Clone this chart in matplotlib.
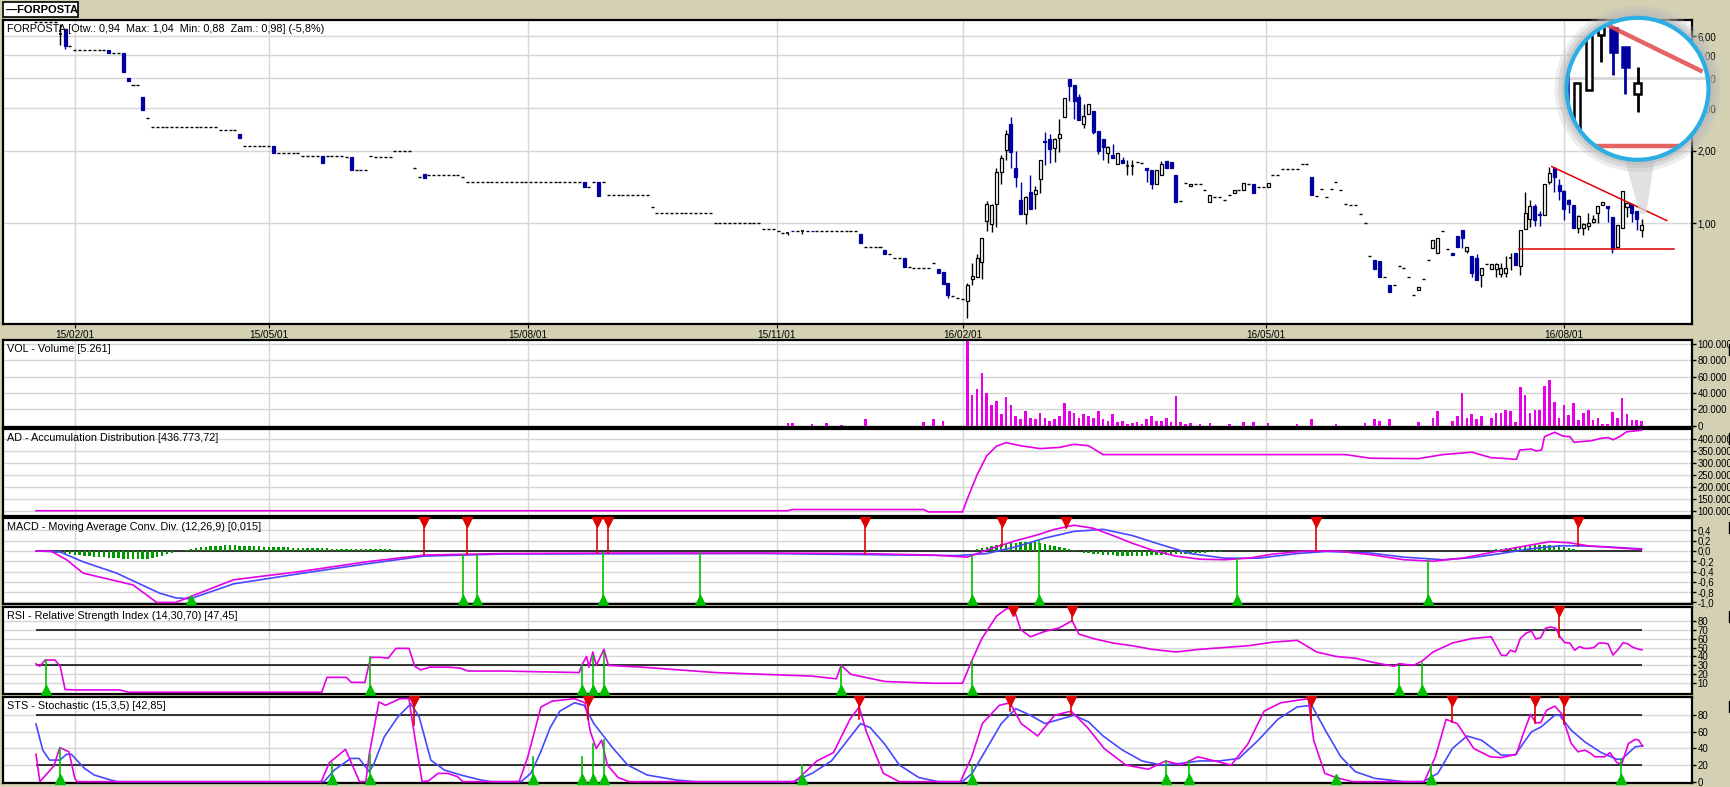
import numpy as np
import matplotlib.pyplot as plt
from matplotlib.patches import Rectangle, Circle, Polygon
from matplotlib.lines import Line2D
from matplotlib.transforms import blended_transform_factory, offset_copy

# ---------------- data ----------------
date_pos = [8, 48, 101.4, 152.7, 191.1, 253.5, 315]
date_lbl = ['15/02/01', '15/05/01', '15/08/01', '15/11/01', '16/02/01', '16/05/01', '16/08/01']

# bars without range (open = high = low = close): (first bar, last bar, price)
flat_runs = [(0, 4, 6.85), (7, 7, 5.44), (8, 14, 5.25), (16, 17, 5.11), (20, 21, 3.77),
             (23, 23, 2.74), (24, 37, 2.51), (38, 41, 2.43), (43, 48, 2.09), (50, 54, 1.96),
             (55, 58, 1.90), (60, 63, 1.90), (64, 64, 1.88), (66, 68, 1.67), (69, 69, 1.90),
             (70, 73, 1.88), (74, 77, 1.99), (78, 78, 1.69), (79, 79, 1.55), (81, 87, 1.58),
             (88, 88, 1.56), (89, 112, 1.49), (114, 114, 1.41), (115, 115, 1.49), (117, 117, 1.49),
             (118, 126, 1.31), (127, 127, 1.17), (128, 139, 1.10), (140, 149, 1.006),
             (150, 152, 0.95), (153, 153, 0.93), (154, 154, 0.912), (157, 157, 0.93),
             (159, 159, 0.93), (161, 162, 0.932), (163, 163, 0.928), (164, 164, 0.926),
             (165, 169, 0.932), (171, 174, 0.80), (176, 176, 0.744), (177, 178, 0.72),
             (180, 180, 0.659), (181, 184, 0.649), (185, 185, 0.682), (189, 189, 0.50),
             (190, 190, 0.49), (191, 191, 0.482), (227, 227, 1.79), (228, 228, 1.78),
             (236, 236, 1.24), (237, 237, 1.475), (239, 240, 1.46), (241, 241, 1.37),
             (243, 243, 1.29), (244, 244, 1.28), (245, 245, 1.25), (246, 246, 1.31),
             (248, 248, 1.38), (250, 250, 1.46), (252, 252, 1.42), (253, 253, 1.41),
             (255, 256, 1.58), (257, 260, 1.675), (261, 262, 1.77), (264, 264, 1.30),
             (265, 265, 1.39), (266, 266, 1.29), (267, 267, 1.39), (268, 268, 1.49),
             (269, 269, 1.38), (270, 270, 1.20), (271, 272, 1.19), (273, 273, 1.09),
             (274, 274, 1.0), (275, 275, 0.73), (278, 278, 0.60), (280, 280, 0.553),
             (281, 281, 0.663), (282, 282, 0.65), (283, 283, 0.60), (284, 284, 0.503),
             (286, 286, 0.589), (287, 287, 0.702), (290, 290, 0.926), (291, 291, 0.78),
             (299, 299, 0.676)]

c_idx = [5, 6, 15, 18, 19, 22, 42, 49, 59, 65, 80, 113, 116, 155, 156, 158, 160, 170, 175, 179,
         186, 187, 188, 192, 193, 194, 195, 196, 197, 198, 199, 200, 201, 202, 203, 204, 205,
         206, 207, 208, 209, 210, 211, 212, 213, 214, 215, 216, 217, 218, 219, 220, 221, 222,
         223, 224, 225, 226, 229, 230, 231, 232, 233, 234, 235, 238, 242, 247, 249, 251, 254,
         263, 276, 277, 279, 285, 288, 289, 292, 293, 294, 295, 296, 297, 298, 300, 301, 302,
         303, 304, 305, 306, 307, 308, 309, 310, 311, 312, 313, 314, 315, 316, 317, 318, 319,
         320, 321, 322, 323, 324, 325, 326, 327, 328, 329, 330, 331]
c_open = [6.1, 6.42, 5.26, 5.11, 4.02, 3.36, 2.36, 2.09, 1.90, 1.88, 1.60, 1.49, 1.49, 0.91, 0.93,
          0.925, 0.93, 0.90, 0.773, 0.716, 0.645, 0.627, 0.564, 0.474, 0.584, 0.599, 0.691,
          1.022, 0.997, 1.20, 1.64, 2.02, 2.59, 1.69, 1.245, 1.09, 1.345, 1.32, 1.53, 2.19,
          2.25, 2.05, 2.27, 2.76, 3.96, 3.74, 3.36, 2.59, 2.85, 2.94, 2.41, 2.25, 1.96, 1.93,
          1.77, 1.83, 1.73, 1.73, 1.69, 1.67, 1.46, 1.59, 1.81, 1.80, 1.58, 1.43, 1.23, 1.34,
          1.38, 1.45, 1.41, 1.55, 0.70, 0.695, 0.553, 0.53, 0.79, 0.749, 0.749, 0.883, 0.94,
          0.77, 0.73, 0.716, 0.61, 0.647, 0.645, 0.613, 0.62, 0.72, 0.749, 0.663, 0.947, 1.04,
          1.18, 1.09, 1.087, 1.48, 1.70, 1.44, 1.36, 1.245, 1.19, 0.956, 0.956, 0.978, 1.01,
          1.10, 1.19, 1.18, 1.059, 0.80, 0.956, 1.17, 1.20, 1.12, 0.94]
c_high = [6.75, 6.42, 5.26, 5.11, 4.02, 3.36, 2.36, 2.09, 1.90, 1.88, 1.60, 1.49, 1.49, 0.91, 0.93,
          0.925, 0.93, 0.90, 0.773, 0.716, 0.645, 0.627, 0.564, 0.566, 0.681, 0.744, 0.872,
          1.234, 1.20, 1.70, 1.93, 2.43, 2.76, 1.995, 1.48, 1.30, 1.58, 1.43, 1.84, 2.39, 2.34,
          2.27, 2.72, 3.32, 3.96, 3.74, 3.45, 3.12, 3.12, 2.94, 2.41, 2.25, 2.10, 2.13, 1.95,
          1.88, 1.83, 1.84, 1.69, 1.67, 1.67, 1.81, 1.81, 1.80, 1.58, 1.46, 1.31, 1.38, 1.475,
          1.45, 1.475, 1.55, 0.70, 0.695, 0.553, 0.541, 0.848, 0.872, 0.749, 0.883, 0.94,
          0.80, 0.73, 0.744, 0.65, 0.674, 0.685, 0.685, 0.73, 0.749, 0.749, 0.935, 1.35, 1.245,
          1.20, 1.12, 1.46, 1.72, 1.72, 1.52, 1.38, 1.26, 1.19, 1.08, 1.0, 1.10, 1.08, 1.18,
          1.22, 1.18, 1.059, 0.98, 1.356, 1.21, 1.20, 1.12, 1.04]
c_low = [5.53, 5.30, 5.09, 4.24, 3.89, 2.96, 2.26, 1.96, 1.78, 1.66, 1.54, 1.41, 1.30, 0.895,
         0.925, 0.905, 0.925, 0.83, 0.746, 0.659, 0.622, 0.558, 0.49, 0.402, 0.551, 0.599,
         0.588, 0.929, 0.92, 0.96, 1.45, 1.84, 1.69, 1.41, 1.09, 0.99, 1.15, 1.15, 1.34, 1.74,
         1.78, 1.79, 1.98, 2.76, 3.21, 2.71, 2.68, 2.50, 2.85, 2.35, 1.94, 1.83, 1.78, 1.87,
         1.77, 1.78, 1.58, 1.58, 1.48, 1.39, 1.46, 1.59, 1.70, 1.69, 1.23, 1.43, 1.23, 1.34,
         1.38, 1.34, 1.41, 1.31, 0.645, 0.60, 0.52, 0.53, 0.79, 0.749, 0.737, 0.80, 0.79,
         0.749, 0.60, 0.58, 0.541, 0.647, 0.60, 0.60, 0.60, 0.64, 0.67, 0.61, 0.947, 0.965,
         0.97, 0.97, 1.087, 1.46, 1.35, 1.245, 1.03, 1.10, 0.956, 0.91, 0.89, 0.935, 1.0,
         1.003, 1.19, 1.01, 0.75, 0.79, 0.956, 1.06, 1.01, 0.94, 0.88]
c_close = [6.1, 5.47, 5.09, 4.24, 3.89, 2.96, 2.26, 1.96, 1.78, 1.66, 1.54, 1.41, 1.30, 0.91,
           0.925, 0.925, 0.925, 0.83, 0.746, 0.659, 0.622, 0.558, 0.503, 0.553, 0.603, 0.714,
           0.872, 1.207, 1.188, 1.64, 1.87, 2.36, 1.98, 1.55, 1.09, 1.28, 1.15, 1.37, 1.84,
           2.18, 2.03, 2.25, 2.36, 3.32, 3.71, 3.21, 2.68, 2.78, 3.12, 2.39, 1.995, 2.08, 2.07,
           1.87, 1.95, 1.78, 1.73, 1.73, 1.66, 1.45, 1.67, 1.77, 1.70, 1.69, 1.23, 1.46, 1.31,
           1.38, 1.475, 1.34, 1.475, 1.31, 0.645, 0.60, 0.52, 0.541, 0.848, 0.872, 0.737, 0.80,
           0.87, 0.80, 0.62, 0.58, 0.65, 0.674, 0.674, 0.652, 0.652, 0.72, 0.67, 0.935, 1.107,
           1.18, 1.03, 1.085, 1.46, 1.61, 1.56, 1.36, 1.15, 1.20, 0.956, 1.07, 0.99, 1.006,
           1.045, 1.18, 1.22, 1.16, 0.78, 0.98, 1.356, 1.21, 1.10, 1.04, 0.98]

trend_x, trend_y = [312.5, 336.2], [1.72, 1.026]
support_x, support_y = [305.8, 337.7], [0.778, 0.778]

vol_idx = [155, 156, 160, 163, 166, 171, 183, 185, 187, 192, 193, 194, 195, 196, 197, 198, 199,
           200, 201, 202, 203, 204, 205, 206, 207, 208, 209, 210, 211, 212, 213, 214, 215, 216,
           217, 218, 219, 220, 221, 222, 223, 224, 225, 226, 227, 228, 229, 230, 231, 232, 233,
           234, 235, 236, 237, 238, 240, 242, 246, 249, 251, 254, 260, 263, 268, 274, 276, 277,
           279, 285, 288, 289, 292, 293, 294, 295, 296, 297, 298, 300, 301, 302, 303, 304, 305,
           306, 307, 308, 309, 310, 311, 312, 313, 314, 315, 316, 317, 318, 319, 320, 321, 322,
           323, 324, 325, 326, 327, 328, 329, 330, 331]
vol_val = [3000, 3000, 2000, 3000, 1000, 8000, 4000, 8000, 6000, 104000, 38000, 45000, 65000,
           40000, 25000, 30000, 14000, 35000, 25000, 12000, 8000, 18000, 10000, 8000, 15000,
           10000, 6000, 8000, 12000, 28000, 18000, 15000, 10000, 14000, 12000, 10000, 18000,
           8000, 6000, 14000, 4000, 6000, 2000, 3000, 5000, 2000, 8000, 12000, 6000, 6000, 10000,
           4000, 36000, 4000, 2000, 3000, 2000, 3000, 2000, 4000, 5000, 3000, 2000, 8000, 2000,
           3000, 8000, 6000, 8000, 4000, 10000, 18000, 6000, 12000, 40000, 10000, 14000, 8000,
           12000, 10000, 16000, 16000, 19000, 18000, 4000, 47000, 37600, 16000, 19000, 19000,
           48600, 56000, 29000, 9400, 25000, 13000, 27400, 7000, 15000, 19000, 7000, 9400, 1700,
           1700, 16800, 9400, 34000, 14300, 7000, 7000, 5261]

ad_x = [0, 155, 156, 183, 184, 191, 192, 194, 196, 198, 200, 203, 207, 211, 214, 217, 220, 225,
        270, 275, 285, 290, 296, 300, 302, 305.2, 305.9, 308.3, 309.3, 310.4, 311, 313.1, 314.8,
        316.2, 317.1, 319, 320.7, 322.7, 324.1, 325.1, 326.5, 327.9, 331]
ad_y = [101000, 101000, 106000, 106000, 96000, 96000, 150000, 250000, 330000, 370000, 385000,
        372000, 360000, 365000, 378000, 372000, 335000, 335000, 335000, 320000, 318000, 335000,
        345000, 322000, 320000, 315000, 354000, 358000, 350000, 354000, 410000, 428000, 412000,
        410000, 386000, 390000, 393000, 403000, 406000, 397000, 410000, 430000, 436774]

macd_x = [0, 3, 6.3, 9.7, 20, 24.9, 28.8, 40.7, 54.4, 68.2, 80, 96, 120, 150, 170, 185, 192, 197,
          202, 206, 210, 214, 218, 222, 226, 230, 235, 240, 245, 250, 255, 262, 268, 275, 282,
          288, 294, 300, 306, 312, 316, 320, 326, 331]
macd_y = [0.0, 0.0, -0.17, -0.43, -0.66, -1.0, -1.0, -0.56, -0.40, -0.21, -0.08, -0.05, -0.04,
          -0.04, -0.05, -0.08, -0.12, 0.05, 0.2, 0.3, 0.42, 0.5, 0.44, 0.3, 0.15, 0.02, -0.1,
          -0.16, -0.17, -0.14, -0.06, 0.0, 0.0, -0.07, -0.17, -0.2, -0.14, -0.03, 0.08, 0.18,
          0.16, 0.1, 0.06, 0.03]
sig_x = [0, 5, 9.7, 16.6, 25.5, 28.8, 31.8, 40.7, 54.4, 68.2, 80, 96, 150, 190, 196, 202, 208,
         214, 220, 226, 232, 238, 245, 252, 260, 266, 275, 282, 290, 296, 302, 308, 314, 318,
         324, 331]
sig_y = [0.0, -0.02, -0.21, -0.43, -0.82, -0.91, -0.93, -0.64, -0.44, -0.25, -0.1, -0.06, -0.05,
         -0.09, -0.05, 0.08, 0.25, 0.38, 0.42, 0.3, 0.12, -0.05, -0.14, -0.14, -0.05, -0.01,
         -0.04, -0.12, -0.17, -0.13, -0.05, 0.04, 0.1, 0.1, 0.08, 0.04]
hist_idx = list(range(2, 29)) + list(range(31, 81)) + list(range(193, 246)) + list(range(300, 319))
hist_val = [-0.01, -0.02, -0.03, -0.04, -0.05, -0.06, -0.07, -0.08, -0.09, -0.10, -0.11, -0.12,
            -0.12, -0.13, -0.13, -0.14, -0.15, -0.16, -0.16, -0.15, -0.16, -0.16, -0.14, -0.12,
            -0.09, -0.06, -0.03,
            0.01, 0.03, 0.05, 0.07, 0.08, 0.09, 0.10, 0.10, 0.11, 0.11, 0.11, 0.10, 0.10, 0.10,
            0.09, 0.09, 0.08, 0.08, 0.08, 0.07, 0.07, 0.07, 0.06, 0.06, 0.06, 0.05, 0.05, 0.05,
            0.05, 0.05, 0.04, 0.04, 0.04, 0.04, 0.04, 0.04, 0.03, 0.03, 0.03, 0.03, 0.03, 0.03,
            0.03, 0.02, 0.02, 0.02, 0.02, 0.02, 0.02, 0.02,
            0.02, 0.04, 0.06, 0.08, 0.10, 0.12, 0.13, 0.14, 0.15, 0.16, 0.17, 0.18, 0.18, 0.17,
            0.16, 0.14, 0.12, 0.10, 0.08, 0.05, 0.03, 0.01, -0.01, -0.03, -0.04, -0.05, -0.06,
            -0.07, -0.08, -0.08, -0.09, -0.09, -0.09, -0.10, -0.10, -0.09, -0.09, -0.08, -0.08,
            -0.07, -0.07, -0.06, -0.06, -0.05, -0.05, -0.04, -0.04, -0.03, -0.03, -0.02, -0.02,
            -0.02, -0.01,
            0.02, 0.03, 0.04, 0.05, 0.06, 0.07, 0.08, 0.09, 0.10, 0.11, 0.12, 0.12, 0.11, 0.10,
            0.09, 0.07, 0.05, 0.03, 0.02]
macd_sell_x = [80, 88.8, 115.7, 118, 171, 199.2, 212.4, 263.9, 318]
macd_sell_y = [-0.06, -0.06, -0.04, -0.04, -0.05, 0.1, 0.45, 0.0, 0.1]
macd_buy_x = [32, 88, 91, 116.8, 136.9, 192.9, 206.8, 247.7, 286.9]
macd_buy_y = [-0.93, -0.07, -0.07, -0.04, -0.04, -0.1, 0.2, -0.15, -0.18]

rsi_x = [0, 0.8, 1.9, 3.9, 5, 6, 8.4, 17.3, 19, 58.9, 60, 64, 65, 67.8, 69, 70.9, 72.6, 74.2,
         76.9, 78.1, 79.3, 81.2, 85, 87.4, 89.1, 96, 112, 112.5, 113.5, 114, 114.8, 115.5, 117.1,
         118, 125, 130, 140, 150, 160, 165, 166, 168, 175, 185, 191, 192.9, 195, 198, 200, 201.5,
         203, 205, 208, 211, 213.6, 215, 218, 222, 226, 230, 235, 240, 245, 250, 255, 260, 264,
         268, 272, 276, 280, 281, 284, 285.8, 288, 292, 296, 300, 302.1, 303.1, 304, 305, 306,
         307.2, 308.3, 309.2, 310.2, 311.2, 312.3, 313.3, 314.2, 315.2, 316.2, 317.2, 318.2,
         319.2, 320.2, 321.2, 322.2, 323.2, 324.1, 325.1, 326.2, 327.2, 328.2, 329.1, 330.1, 331.1]
rsi_y = [31.7, 29, 36, 36, 29, 3, 2.5, 2.5, 0, 0, 16.6, 16.6, 11, 11, 39, 39, 38, 49, 49, 29,
         25, 28, 28, 27, 23.7, 23.7, 22, 30, 40, 28, 45, 30, 48, 30, 28, 26, 22, 20, 18, 15, 30,
         20, 12, 10, 10, 35, 60, 85, 93, 95, 70, 62, 68, 72, 80, 65, 60, 55, 52, 48, 45, 48, 50,
         52, 56, 58, 45, 40, 38, 33, 29, 32, 30, 35, 45, 55, 60, 62, 41.3, 41, 47, 45, 60, 66,
         68.5, 59.5, 61, 71.5, 73, 71.5, 62, 55.4, 55, 47, 51, 49, 49, 50, 55, 55, 54, 41.6, 48,
         55.4, 54, 50.4, 48.6, 47.45]
rsi_sell_x = [201.5, 213.6, 314]
rsi_sell_y = [95, 80, 62]
rsi_buy_x = [2, 68.9, 112.5, 114.8, 117.1, 166, 192.9, 281, 285.8]
rsi_buy_y = [36, 39, 30, 40, 45, 28, 35, 29, 33]

stk_x = [0, 0.8, 3.7, 4.9, 6.8, 8.0, 8.5, 58.8, 60.5, 62.6, 63.8, 66.7, 68.0, 68.7, 70.7, 72.1,
         75.0, 76.9, 77.7, 79.6, 80.9, 82.9, 84.9, 86.9, 88.0, 95, 99.6, 101.4, 104.1, 106.4, 111,
         113.2, 114.3, 115.5, 116.6, 117.8, 120, 122.3, 156.5, 161, 164.4, 167.8, 169.7, 171.2,
         174.7, 178, 190.6, 192.9, 195.1, 198.6, 200.8, 203.1, 206.5, 210, 213.4, 216.8, 220.2,
         224.7, 229.3, 232.9, 236.1, 239.5, 243, 246.4, 249.8, 253.2, 256.6, 262.3, 263.4, 265.7,
         268, 271.4, 286.2, 288.5, 290.7, 293, 296.4, 299.8, 302.1, 305.2, 306.5, 308.1, 309.2,
         310.2, 311.4, 313.1, 314.5, 315.2, 316.5, 317.9, 319.3, 320.3, 321.4, 323.4, 324.5,
         325.9, 326.9, 328.3, 329.7, 330.4, 331.2]
stk_y = [33, 0, 19, 41, 36, 4, 0, 0, 23, 33, 39, 0, 0, 33, 96, 92, 100, 100, 68, 0, 1, 10, 10, 6,
         0, 0, 0, 30, 90, 97, 100, 95, 60, 40, 50, 20, 5, 0, 0, 25, 35, 75, 90, 60, 10, 0, 0, 30,
         70, 92, 95, 70, 55, 80, 85, 65, 40, 20, 15, 25, 20, 30, 25, 20, 45, 85, 95, 100, 50, 10,
         5, 0, 0, 30, 75, 70, 40, 30, 29, 33, 56, 81, 71, 71, 86, 91, 82, 69, 46, 36, 38, 35, 30,
         30, 35, 23, 21, 46, 51, 50, 43]
std_x = [0, 1.4, 2.8, 4.9, 6.3, 7.3, 10, 12, 15.4, 16.8, 59.4, 61.5, 64.9, 66.6, 68.7, 69.7,
         71.8, 74.6, 77.3, 79.0, 81.4, 84.2, 87.6, 91.7, 93.8, 100, 102, 104, 106, 108, 111, 113,
         115, 117, 119, 122, 126, 132, 136, 156, 160, 164, 168, 170, 172, 175, 178, 182, 186, 191,
         193, 196, 199, 202, 205, 208, 211, 214, 217, 220, 224, 228, 232, 236, 240, 244, 248, 252,
         256, 260, 263, 266, 269, 272, 276, 282, 286, 289, 292, 295, 298, 302.1, 304.9, 308.3,
         310.3, 313.1, 314.1, 316.5, 319.3, 322.7, 325.9, 326.9, 329.7, 331.2]
std_y = [69.5, 38, 26, 26, 33, 33, 16, 8, 2, 0, 0, 14, 28, 28, 12, 22, 54, 78, 94, 78, 26, 14, 8,
         2, 0, 0, 10, 35, 65, 85, 95, 92, 70, 55, 40, 20, 8, 2, 0, 0, 10, 25, 55, 70, 65, 45, 20,
         5, 0, 0, 10, 40, 70, 88, 80, 70, 75, 80, 72, 55, 38, 25, 20, 22, 25, 25, 28, 50, 75, 90,
         92, 60, 30, 12, 4, 0, 0, 10, 40, 55, 50, 32, 32, 60, 66, 80, 80, 62, 48, 35, 27, 27, 42,
         43]
sts_sell_x = [77.9, 113.7, 169.7, 200.8, 213.4, 262.8, 291.9, 309, 315]
sts_sell_y = [68, 75, 75, 85, 80, 75, 72, 71, 69]
sts_buy_x = [5, 61, 68.9, 102.5, 112.5, 114.8, 117.1, 158, 192.9, 232.9, 237.7, 268, 287.6, 326.8]
sts_buy_y = [41, 23, 33, 30, 30, 45, 50, 20, 20, 25, 25, 5, 20, 27]

# ---------------- style ----------------
BG = '#d3d0b4'
CBLUE = '#0000a0'
MAG = '#e600e6'
LBLUE = '#4848ff'
RED = '#e00000'
GREEN = '#00c000'
GRID = '#d6d6d6'
plt.rcParams['font.family'] = ['Liberation Sans', 'DejaVu Sans']
FS = 7.8
TFS = 6.9

W, H = 1731, 787
fig = plt.figure(figsize=(W / 100, H / 100), dpi=100)
fig.patch.set_facecolor(BG)
XL = (-6.8, 341.4)


def panel(top, bottom):
    ax = fig.add_axes([3 / W, 1 - bottom / H, (1692 - 3) / W, (bottom - top) / H])
    ax.set_xlim(*XL)
    ax.set_facecolor('white')
    for s in ax.spines.values():
        s.set_linewidth(1.6)
        s.set_color('black')
    ax.yaxis.tick_right()
    ax.tick_params(axis='y', direction='out', length=3, width=1, pad=0.8, labelsize=TFS)
    ax.tick_params(axis='x', length=0, labelbottom=False)
    ax.set_xticks(date_pos)
    ax.grid(True, color=GRID, lw=1)
    ax.set_axisbelow(True)
    return ax


def title(ax, txt):
    ax.text(0, 1, txt, transform=offset_copy(ax.transAxes, fig, x=4, y=-9, units='dots'),
            fontsize=FS, va='center', ha='left', zorder=6)


def bracket(top):
    # the cut-off control box at the right edge of each indicator panel
    x0, x1 = 1729.5 / W, 1731 / W
    y0, y1 = 1 - (top + 4) / H, 1 - (top + 15) / H
    fig.add_artist(Line2D([x1, x0, x0, x1], [y0, y0, y1, y1], transform=fig.transFigure,
                          color='black', lw=1))


def draw_candles(ax, bw=0.62, lw=1.0, clip=None):
    arts = []
    for s, e, v in flat_runs:
        for i in range(s, e + 1):
            arts.append(ax.hlines(v, i - bw / 2, i + bw / 2, color='black', lw=lw))
    for i, o, h, l, c in zip(c_idx, c_open, c_high, c_low, c_close):
        if c > o:
            col, fc = 'black', 'white'
        elif c < o:
            col, fc = CBLUE, CBLUE
        else:
            col, fc = 'black', 'black'
        arts.append(ax.vlines(i, l, h, color=col, lw=lw, zorder=3))
        if c == o:
            arts.append(ax.hlines(o, i - bw / 2, i + bw / 2, color=col, lw=1.2 * lw, zorder=4))
        else:
            r = Rectangle((i - bw / 2, min(o, c)), bw, abs(c - o), facecolor=fc, edgecolor=col,
                          lw=0.9 * lw, zorder=4)
            ax.add_patch(r)
            arts.append(r)
    if clip is not None:
        for a in arts:
            a.set_clip_path(clip)
    return arts


def signals(ax, sx, sy, bx, by):
    tr = blended_transform_factory(ax.transData, ax.transAxes)
    top = ax.get_ylim()[1]
    bot = ax.get_ylim()[0]
    for x, y in zip(sx, sy):
        ax.plot([x, x], [y, top], color=RED, lw=1.2, zorder=5)
        ax.plot([x], [0.955], marker='v', ms=7, color=RED, transform=tr, zorder=6, clip_on=False)
    for x, y in zip(bx, by):
        ax.plot([x, x], [bot, y], color=GREEN, lw=1.2, zorder=5)
        ax.plot([x], [0.045], marker='^', ms=7, color=GREEN, transform=tr, zorder=6, clip_on=False)


# ---------------- price ----------------
axp = panel(20, 324)
axp.set_yscale('log')
axp.set_ylim(0.381, 7.0)
axp.set_yticks([1, 2, 3, 4, 5, 6])
axp.set_yticks([], minor=True)
axp.set_yticklabels(['1,00', '2,00', '3,00', '4,00', '5,00', '6,00'])
axp.tick_params(axis='x', labelbottom=True, length=3, labelsize=7.2, pad=1)
axp.set_xticklabels(date_lbl)
draw_candles(axp)
axp.plot(trend_x, trend_y, color=RED, lw=1.1, zorder=5)
axp.plot(support_x, support_y, color=RED, lw=1.1, zorder=5)
title(axp, 'FORPOSTA [Otw.: 0,94  Max: 1,04  Min: 0,88  Zam.: 0,98] (-5,8%)')

# ---------------- volume ----------------
axv = panel(340, 427)
axv.set_ylim(-1600, 104900)
axv.set_yticks(range(0, 100001, 20000))
axv.set_yticklabels(['0', '20.000', '40.000', '60.000', '80.000', '100.000'])
axv.bar(vol_idx, vol_val, width=0.55, color=MAG, zorder=3)
title(axv, 'VOL - Volume [5.261]')
bracket(340)

# ---------------- AD ----------------
axa = panel(429, 516)
axa.set_ylim(79000, 441700)
axa.set_yticks(range(100000, 400001, 50000))
axa.set_yticklabels(['100.000', '150.000', '200.000', '250.000', '300.000', '350.000', '400.000'])
axa.plot(ad_x, ad_y, color=MAG, lw=1.2, zorder=3)
title(axa, 'AD - Accumulation Distribution [436.773,72]')
bracket(429)

# ---------------- MACD ----------------
axm = panel(518, 604)
axm.set_ylim(-1.03, 0.64)
mt = [-1.0, -0.8, -0.6, -0.4, -0.2, 0.0, 0.2, 0.4]
axm.set_yticks(mt)
axm.set_yticklabels([('%.1f' % t).replace('.', ',') for t in mt])
axm.hlines(0, 0, 331, color='black', lw=1.1, zorder=2)
axm.bar(hist_idx, hist_val, width=0.5, color='#009a00', zorder=3)
axm.plot(sig_x, sig_y, color=LBLUE, lw=1.2, zorder=4)
axm.plot(macd_x, macd_y, color=MAG, lw=1.2, zorder=4)
signals(axm, macd_sell_x, macd_sell_y, macd_buy_x, macd_buy_y)
title(axm, 'MACD - Moving Average Conv. Div. (12,26,9) [0,015]')
bracket(518)

# ---------------- RSI ----------------
axr = panel(607, 694)
axr.set_ylim(-2, 95.3)
axr.set_yticks(range(10, 81, 10))
axr.hlines([30, 70], 0, 331, color='black', lw=1.1, zorder=2)
axr.plot(rsi_x, rsi_y, color=MAG, lw=1.2, zorder=4)
signals(axr, rsi_sell_x, rsi_sell_y, rsi_buy_x, rsi_buy_y)
title(axr, 'RSI - Relative Strength Index (14,30,70) [47,45]')
bracket(607)

# ---------------- STS ----------------
axs = panel(697, 783)
axs.set_ylim(-1.6, 102)
axs.set_yticks(range(0, 81, 20))
axs.hlines([20, 80], 0, 331, color='black', lw=1.1, zorder=2)
axs.plot(std_x, std_y, color=LBLUE, lw=1.2, zorder=4)
axs.plot(stk_x, stk_y, color=MAG, lw=1.2, zorder=4)
signals(axs, sts_sell_x, sts_sell_y, sts_buy_x, sts_buy_y)
title(axs, 'STS - Stochastic (15,3,5) [42,85]')
bracket(697)

# ---------------- tab ----------------
fig.add_artist(Rectangle((3 / W, 1 - 17 / H), 75 / W, 15 / H, transform=fig.transFigure,
                         facecolor='white', edgecolor='black', lw=1.2))
fig.text(6 / W, 1 - 10 / H, '\u2014FORPOSTA', fontsize=8, fontweight='bold', va='center')

# ---------------- magnifier ----------------
fig.add_artist(Polygon([(1622 / W, 1 - 150 / H), (1656 / W, 1 - 150 / H), (1646 / W, 1 - 214 / H),
                        (1640 / W, 1 - 214 / H)], closed=True, transform=fig.transFigure,
                       facecolor='#d8d8d8', edgecolor='none', alpha=0.75, zorder=5))
lens = fig.add_axes([1566.5 / W, 1 - 159.8 / H, 142 / W, 142 / H], zorder=10)
lens.axis('off')
lens.set_xlim(331 - 5.86, 331 + 5.86)
lens.set_yscale('log')
lens.set_ylim(0.739, 1.246)
for r, a in [(0.585, 0.25), (0.56, 0.35), (0.535, 0.5)]:
    lens.add_patch(Circle((0.5, 0.5), r, transform=lens.transAxes, facecolor='#b8b8b8',
                          edgecolor='none', alpha=a, clip_on=False, zorder=0))
circ = Circle((0.5, 0.5), 0.5, transform=lens.transAxes, facecolor='white', edgecolor='none',
              zorder=1)
lens.add_patch(circ)
g = lens.axhline(1.0, color=GRID, lw=2, zorder=2)
g.set_clip_path(circ)
draw_candles(lens, bw=0.55, lw=2.0, clip=circ)
for xs, ys in [(trend_x, trend_y), (support_x, support_y)]:
    ln, = lens.plot(xs, ys, color='#e04848', lw=3.2, alpha=0.85, zorder=5)
    ln.set_clip_path(circ)
lens.add_patch(Circle((0.5, 0.5), 0.5, transform=lens.transAxes, fill=False,
                      edgecolor='#2aaee4', lw=3, clip_on=False, zorder=8))

fig.savefig('out.png', dpi=100, facecolor=BG)
